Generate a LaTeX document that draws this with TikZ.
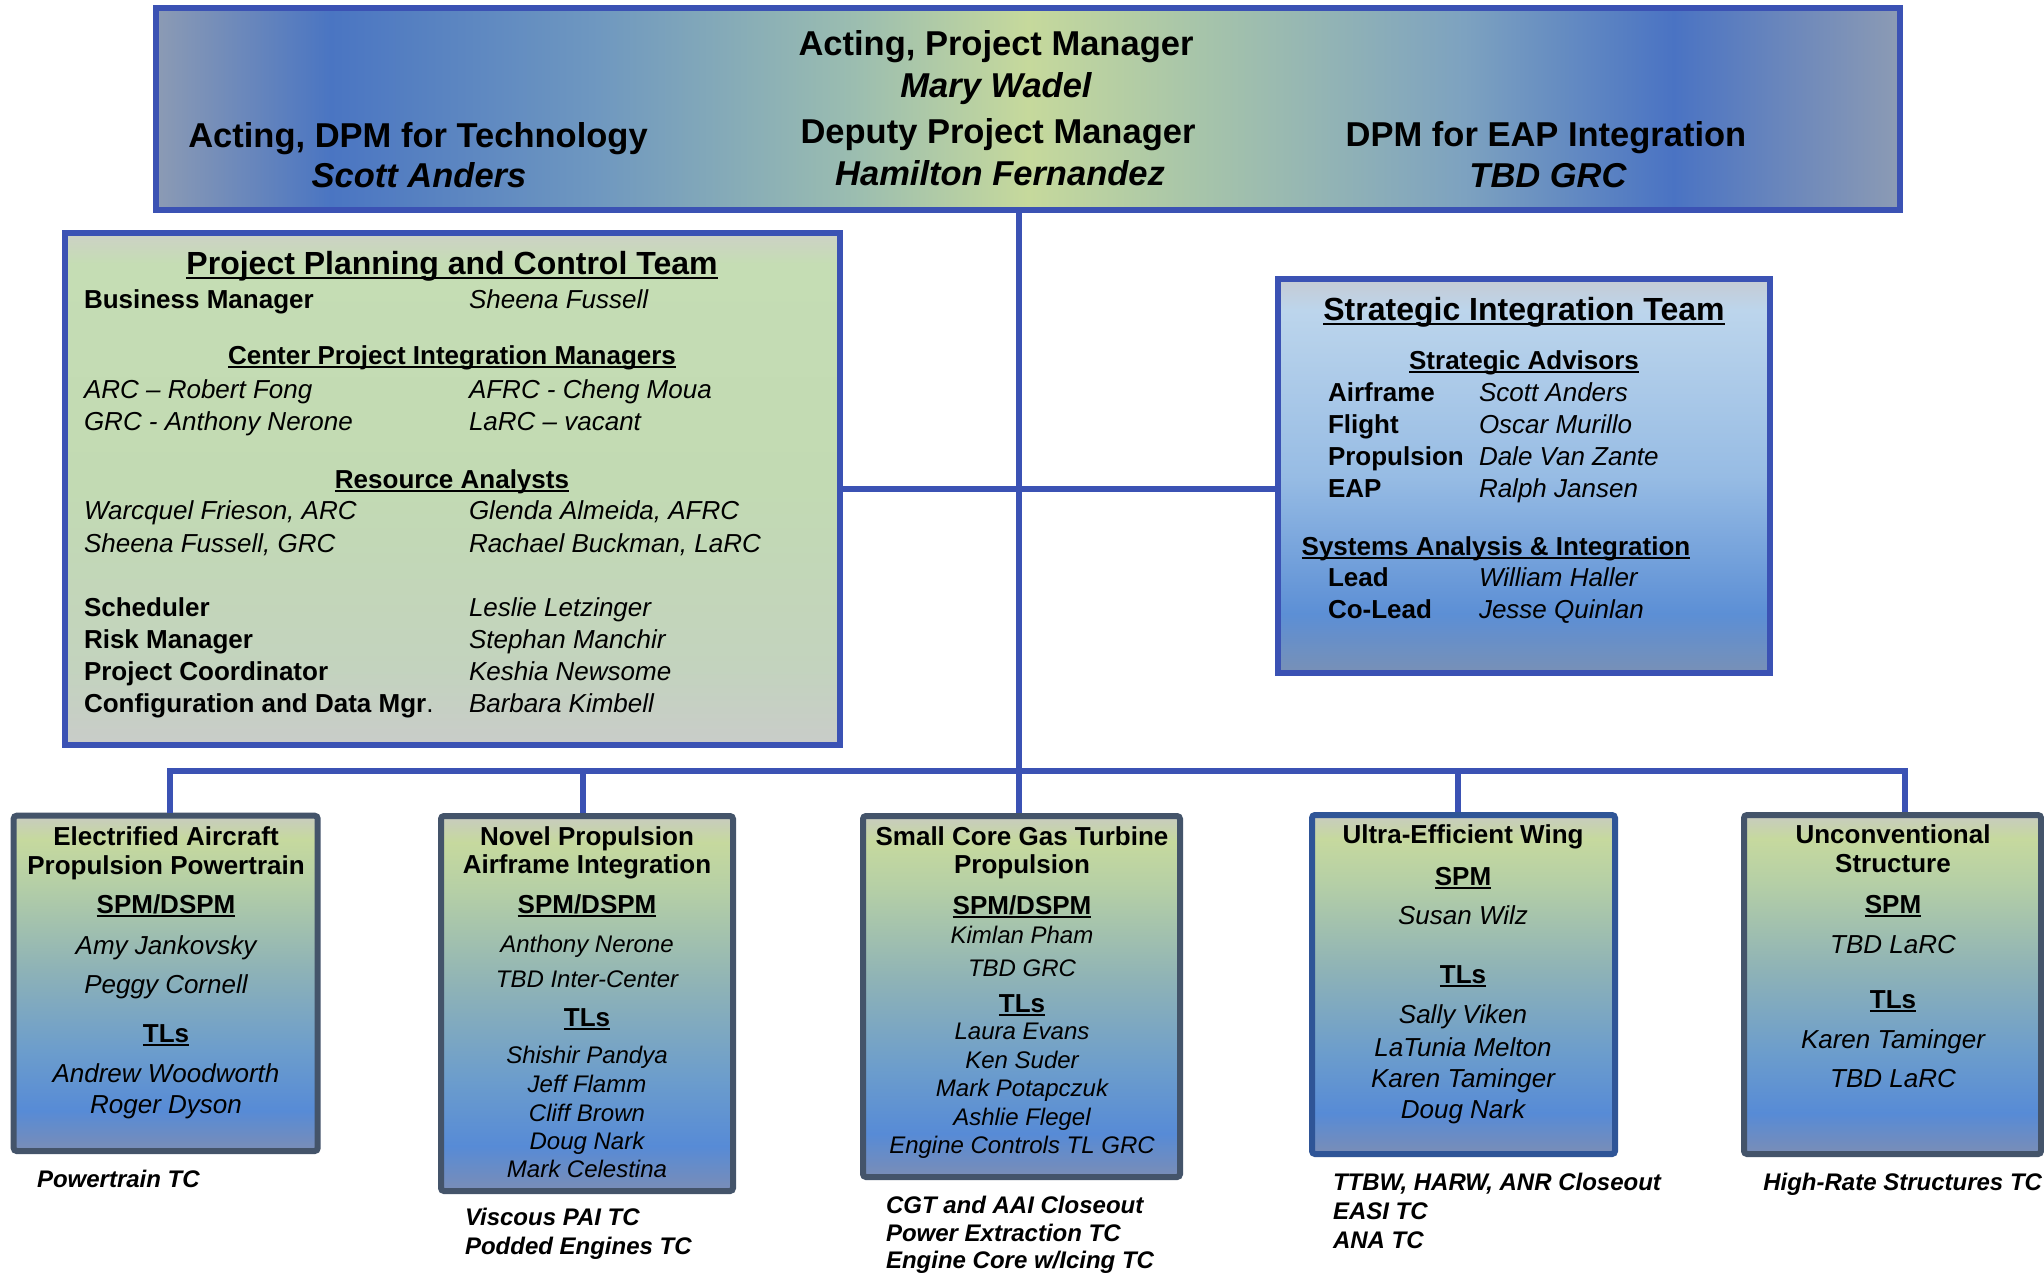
\documentclass[tikz,border=0pt]{standalone}
\usepackage{fontspec}
\setmainfont{Liberation Sans}
\definecolor{navy}{HTML}{3B52B4}
\definecolor{slate}{HTML}{44546A}
\definecolor{uewbd}{HTML}{2F5597}
% top box horizontal gradient
\definecolor{tg0}{HTML}{8C9BB4}
\definecolor{tg1}{HTML}{4A75C2}
\definecolor{tg2}{HTML}{6E97C0}
\definecolor{tg3}{HTML}{9BBDB0}
\definecolor{tg4}{HTML}{C6D99C}
\definecolor{tg5}{HTML}{A6C4AA}
\definecolor{tg6}{HTML}{7DA2C0}
\definecolor{tg7}{HTML}{4A73C3}
\pgfdeclarehorizontalshading{topgrad}{100bp}{color(0bp)=(tg0); color(25bp)=(tg0); color(30bp)=(tg1); color(37.5bp)=(tg2); color(45bp)=(tg3); color(50bp)=(tg4); color(55bp)=(tg5); color(62.5bp)=(tg6); color(68.5bp)=(tg7); color(75bp)=(tg0); color(100bp)=(tg0)}
% bottom boxes
\definecolor{bg0}{HTML}{C8CBC0}
\definecolor{bg1}{HTML}{C6D99E}
\definecolor{bg2}{HTML}{B5CFA6}
\definecolor{bg3}{HTML}{8FB3B6}
\definecolor{bg4}{HTML}{6C9DCC}
\definecolor{bg5}{HTML}{578BD6}
\definecolor{bg6}{HTML}{7A8DB6}
\pgfdeclareverticalshading{botgrad}{100bp}{color(0bp)=(bg6); color(25bp)=(bg6); color(31bp)=(bg5); color(40bp)=(bg4); color(52.5bp)=(bg3); color(65bp)=(bg2); color(71.5bp)=(bg1); color(75bp)=(bg0); color(100bp)=(bg0)}
% ppc box
\definecolor{pg0}{HTML}{CDD1C6}
\definecolor{pg1}{HTML}{C5DDB4}
\definecolor{pg2}{HTML}{C2DAB3}
\definecolor{pg3}{HTML}{C3D3BE}
\definecolor{pg4}{HTML}{C9CCC9}
\pgfdeclareverticalshading{ppcgrad}{100bp}{color(0bp)=(pg4); color(25bp)=(pg4); color(32.5bp)=(pg3); color(50bp)=(pg2); color(72bp)=(pg1); color(75bp)=(pg0); color(100bp)=(pg0)}
% sit box
\definecolor{sg0}{HTML}{C6CBD4}
\definecolor{sg1}{HTML}{BCD5EC}
\definecolor{sg2}{HTML}{97BCE4}
\definecolor{sg3}{HTML}{5C8FD5}
\definecolor{sg4}{HTML}{7890B6}
\pgfdeclareverticalshading{sitgrad}{100bp}{color(0bp)=(sg4); color(25bp)=(sg4); color(32.5bp)=(sg3); color(50bp)=(sg2); color(71bp)=(sg1); color(75bp)=(sg0); color(100bp)=(sg0)}
\newcommand\myul[1]{{\setbox0=\hbox{#1}\rlap{\vrule width\wd0 height -0.09em depth 0.165em}\box0}}
\tikzset{
  lbl/.style={inner sep=0pt, outer sep=0pt},
  hd/.style={lbl, anchor=base, font=\fontsize{34.5}{40}\selectfont\bfseries},
  hdi/.style={lbl, anchor=base, font=\fontsize{34.5}{40}\selectfont\bfseries\itshape},
  ttl/.style={lbl, anchor=base, font=\fontsize{32}{38}\selectfont\bfseries},
  bl/.style={lbl, anchor=base west, font=\fontsize{26}{30}\selectfont\bfseries},
  il/.style={lbl, anchor=base west, font=\fontsize{26}{30}\selectfont\itshape},
  bc/.style={lbl, anchor=base, font=\fontsize{26}{30}\selectfont\bfseries},
  ic/.style={lbl, anchor=base, font=\fontsize{26}{30}\selectfont\itshape},
  is/.style={lbl, anchor=base, font=\fontsize{24}{28}\selectfont\itshape},
  capt/.style={lbl, anchor=base west, font=\fontsize{24}{28}\selectfont\bfseries\itshape},
  capr/.style={lbl, anchor=base east, font=\fontsize{24}{28}\selectfont\bfseries\itshape},
  conn/.style={draw=navy, line width=6pt},
  topbox/.style={draw=navy, line width=6pt, shading=topgrad, inner sep=0pt},
  ppcbox/.style={draw=navy, line width=6pt, shading=ppcgrad, inner sep=0pt},
  sitbox/.style={draw=navy, line width=6pt, shading=sitgrad, inner sep=0pt},
  botbox/.style={draw=slate, line width=6pt, shading=botgrad, inner sep=0pt, rounded corners=3pt},
  uewbox/.style={draw=uewbd, line width=6pt, shading=botgrad, inner sep=0pt, rounded corners=3pt}
}
\begin{document}
\begin{tikzpicture}[x=1pt,y=-1pt]
\useasboundingbox (0,0) rectangle (2044,1274);
\fill[white] (0,0) rectangle (2044,1274);
% coordinates of the bus
\coordinate (d1) at (170,771);
\coordinate (d2) at (583,771);
\coordinate (d3) at (1019,771);
\coordinate (d4) at (1458,771);
\coordinate (d5) at (1905,771);
% boxes
\node[topbox, minimum width=1744, minimum height=201.5] (top) at (1028,108.75) {};
\node[ppcbox, minimum width=775.5, minimum height=512] (ppc) at (452.25,489) {};
\node[sitbox, minimum width=492, minimum height=394] (sit) at (1524,476) {};
\node[botbox, minimum width=304, minimum height=335.3] (eapp) at (165.7,983.35) {};
\node[botbox, minimum width=292, minimum height=375] (npai) at (587,1003.5) {};
\node[botbox, minimum width=317, minimum height=361] (scgt) at (1021.5,996.5) {};
\node[uewbox, minimum width=303, minimum height=339] (uew) at (1463.5,984.5) {};
\node[botbox, minimum width=297, minimum height=339] (us) at (1892.5,984.5) {};
% connectors
\draw[conn] (top.south -| d3) -- (d3 |- scgt.north);
\draw[conn] (d1 |- eapp.north) -- (d1) -- (d5) -- (d5 |- us.north);
\draw[conn] (d2) -- (d2 |- npai.north);
\draw[conn] (d4) -- (d4 |- uew.north);
\draw[conn] (ppc.east) -- (ppc.east -| sit.west);
% top box text
\node[hd] (pmT) at (996,55) {Acting, Project Manager};
\node[hdi] (pmN) at (996,97) {Mary Wadel};
\node[hd] (dpmT) at (998,143) {Deputy Project Manager};
\node[hdi] (dpmN) at (1000,185) {Hamilton Fernandez};
\node[hd] (techT) at (418,147) {Acting, DPM for Technology};
\node[hdi] (techN) at (419,187) {Scott Anders};
\node[hd] (eapT) at (1546,146) {DPM for EAP Integration};
\node[hdi] (eapN) at (1548,187) {TBD GRC};
% PPC
\node[ttl] (ppcT) at (452,274) {\myul{Project Planning and Control Team}};
\node[bl] (bmL) at (84,308) {Business Manager};
\node[il] (bmN) at (469,308) {Sheena Fussell};
\node[bc] (cpimT) at (452,364) {\myul{Center Project Integration Managers}};
\node[il] (arc) at (84,398) {ARC \textendash{} Robert Fong};
\node[il] (afrc) at (469,398) {AFRC - Cheng Moua};
\node[il] (grc) at (84,430) {GRC - Anthony Nerone};
\node[il] (larc) at (469,430) {LaRC \textendash{} vacant};
\node[bc] (raT) at (452,488) {\myul{Resource Analysts}};
\node[il] (ra1) at (84,519) {Warcquel Frieson, ARC};
\node[il] (ra2) at (469,519) {Glenda Almeida, AFRC};
\node[il] (ra3) at (84,552) {Sheena Fussell, GRC};
\node[il] (ra4) at (469,552) {Rachael Buckman, LaRC};
\node[bl] (schL) at (84,616) {Scheduler};
\node[il] (schN) at (469,616) {Leslie Letzinger};
\node[bl] (rmL) at (84,648) {Risk Manager};
\node[il] (rmN) at (469,648) {Stephan Manchir};
\node[bl] (pcL) at (84,680) {Project Coordinator};
\node[il] (pcN) at (469,680) {Keshia Newsome};
\node[bl] (cdL) at (84,712) {Configuration and Data Mgr\mdseries.};
\node[il] (cdN) at (469,712) {Barbara Kimbell};
% SIT
\node[ttl] (sitT) at (1524,320) {\myul{Strategic Integration Team}};
\node[bc] (saT) at (1524,369) {\myul{Strategic Advisors}};
\node[bl] (sa1L) at (1328,401) {Airframe};
\node[il] (sa1N) at (1479,401) {Scott Anders};
\node[bl] (sa2L) at (1328,433) {Flight};
\node[il] (sa2N) at (1479,433) {Oscar Murillo};
\node[bl] (sa3L) at (1328,465) {Propulsion};
\node[il] (sa3N) at (1479,465) {Dale Van Zante};
\node[bl] (sa4L) at (1328,497) {EAP};
\node[il] (sa4N) at (1479,497) {Ralph Jansen};
\node[bc] (saiT) at (1496,555) {\myul{Systems Analysis \& Integration}};
\node[bl] (leadL) at (1328,586) {Lead};
\node[il] (leadN) at (1479,586) {William Haller};
\node[bl] (coL) at (1328,618) {Co-Lead};
\node[il] (coN) at (1479,618) {Jesse Quinlan};
% box 1
\node[bc] (e1) at (166,845) {Electrified Aircraft};
\node[bc] (e2) at (166,874) {Propulsion Powertrain};
\node[bc] (e3) at (166,913) {\myul{SPM/DSPM}};
\node[ic] (e4) at (166,954) {Amy Jankovsky};
\node[ic] (e5) at (166,993) {Peggy Cornell};
\node[bc] (e6) at (166,1042) {\myul{TLs}};
\node[ic] (e7) at (166,1082) {Andrew Woodworth};
\node[ic] (e8) at (166,1113) {Roger Dyson};
\node[capt] (ec1) at (37,1187) {Powertrain TC};
% box 2
\node[bc] (n1) at (587,845) {Novel Propulsion};
\node[bc] (n2) at (587,873) {Airframe Integration};
\node[bc] (n3) at (587,913) {\myul{SPM/DSPM}};
\node[is] (n4) at (587,952) {Anthony Nerone};
\node[is] (n5) at (587,987) {TBD Inter-Center};
\node[bc] (n6) at (587,1026) {\myul{TLs}};
\node[is] (n7) at (587,1063) {Shishir Pandya};
\node[is] (n8) at (587,1092) {Jeff Flamm};
\node[is] (n9) at (587,1121) {Cliff Brown};
\node[is] (n10) at (587,1149) {Doug Nark};
\node[is] (n11) at (587,1177) {Mark Celestina};
\node[capt] (nc1) at (465,1225) {Viscous PAI TC};
\node[capt] (nc2) at (465,1254) {Podded Engines TC};
% box 3
\node[bc] (s1) at (1022,845) {Small Core Gas Turbine};
\node[bc] (s2) at (1022,873) {Propulsion};
\node[bc] (s3) at (1022,914) {\myul{SPM/DSPM}};
\node[is] (s4) at (1022,943) {Kimlan Pham};
\node[is] (s5) at (1022,976) {TBD GRC};
\node[bc] (s6) at (1022,1012) {\myul{TLs}};
\node[is] (s7) at (1022,1039) {Laura Evans};
\node[is] (s8) at (1022,1068) {Ken Suder};
\node[is] (s9) at (1022,1096) {Mark Potapczuk};
\node[is] (s10) at (1022,1125) {Ashlie Flegel};
\node[is] (s11) at (1022,1153) {Engine Controls TL GRC};
\node[capt] (sc1) at (886,1213) {CGT and AAI Closeout};
\node[capt] (sc2) at (886,1241) {Power Extraction TC};
\node[capt] (sc3) at (886,1268) {Engine Core w/Icing TC};
% box 4
\node[bc] (u1) at (1463,843) {Ultra-Efficient Wing};
\node[bc] (u2) at (1463,885) {\myul{SPM}};
\node[ic] (u3) at (1463,924) {Susan Wilz};
\node[bc] (u4) at (1463,983) {\myul{TLs}};
\node[ic] (u5) at (1463,1023) {Sally Viken};
\node[ic] (u6) at (1463,1056) {LaTunia Melton};
\node[ic] (u7) at (1463,1087) {Karen Taminger};
\node[ic] (u8) at (1463,1118) {Doug Nark};
\node[capt] (uc1) at (1333,1190) {TTBW, HARW, ANR Closeout};
\node[capt] (uc2) at (1333,1219) {EASI TC};
\node[capt] (uc3) at (1333,1248) {ANA TC};
% box 5
\node[bc] (v1) at (1893,843) {Unconventional};
\node[bc] (v2) at (1893,872) {Structure};
\node[bc] (v3) at (1893,913) {\myul{SPM}};
\node[ic] (v4) at (1893,953) {TBD LaRC};
\node[bc] (v5) at (1893,1008) {\myul{TLs}};
\node[ic] (v6) at (1893,1048) {Karen Taminger};
\node[ic] (v7) at (1893,1087) {TBD LaRC};
\node[capr] (vc1) at (2042,1190) {High-Rate Structures TC};
\end{tikzpicture}
\end{document}
